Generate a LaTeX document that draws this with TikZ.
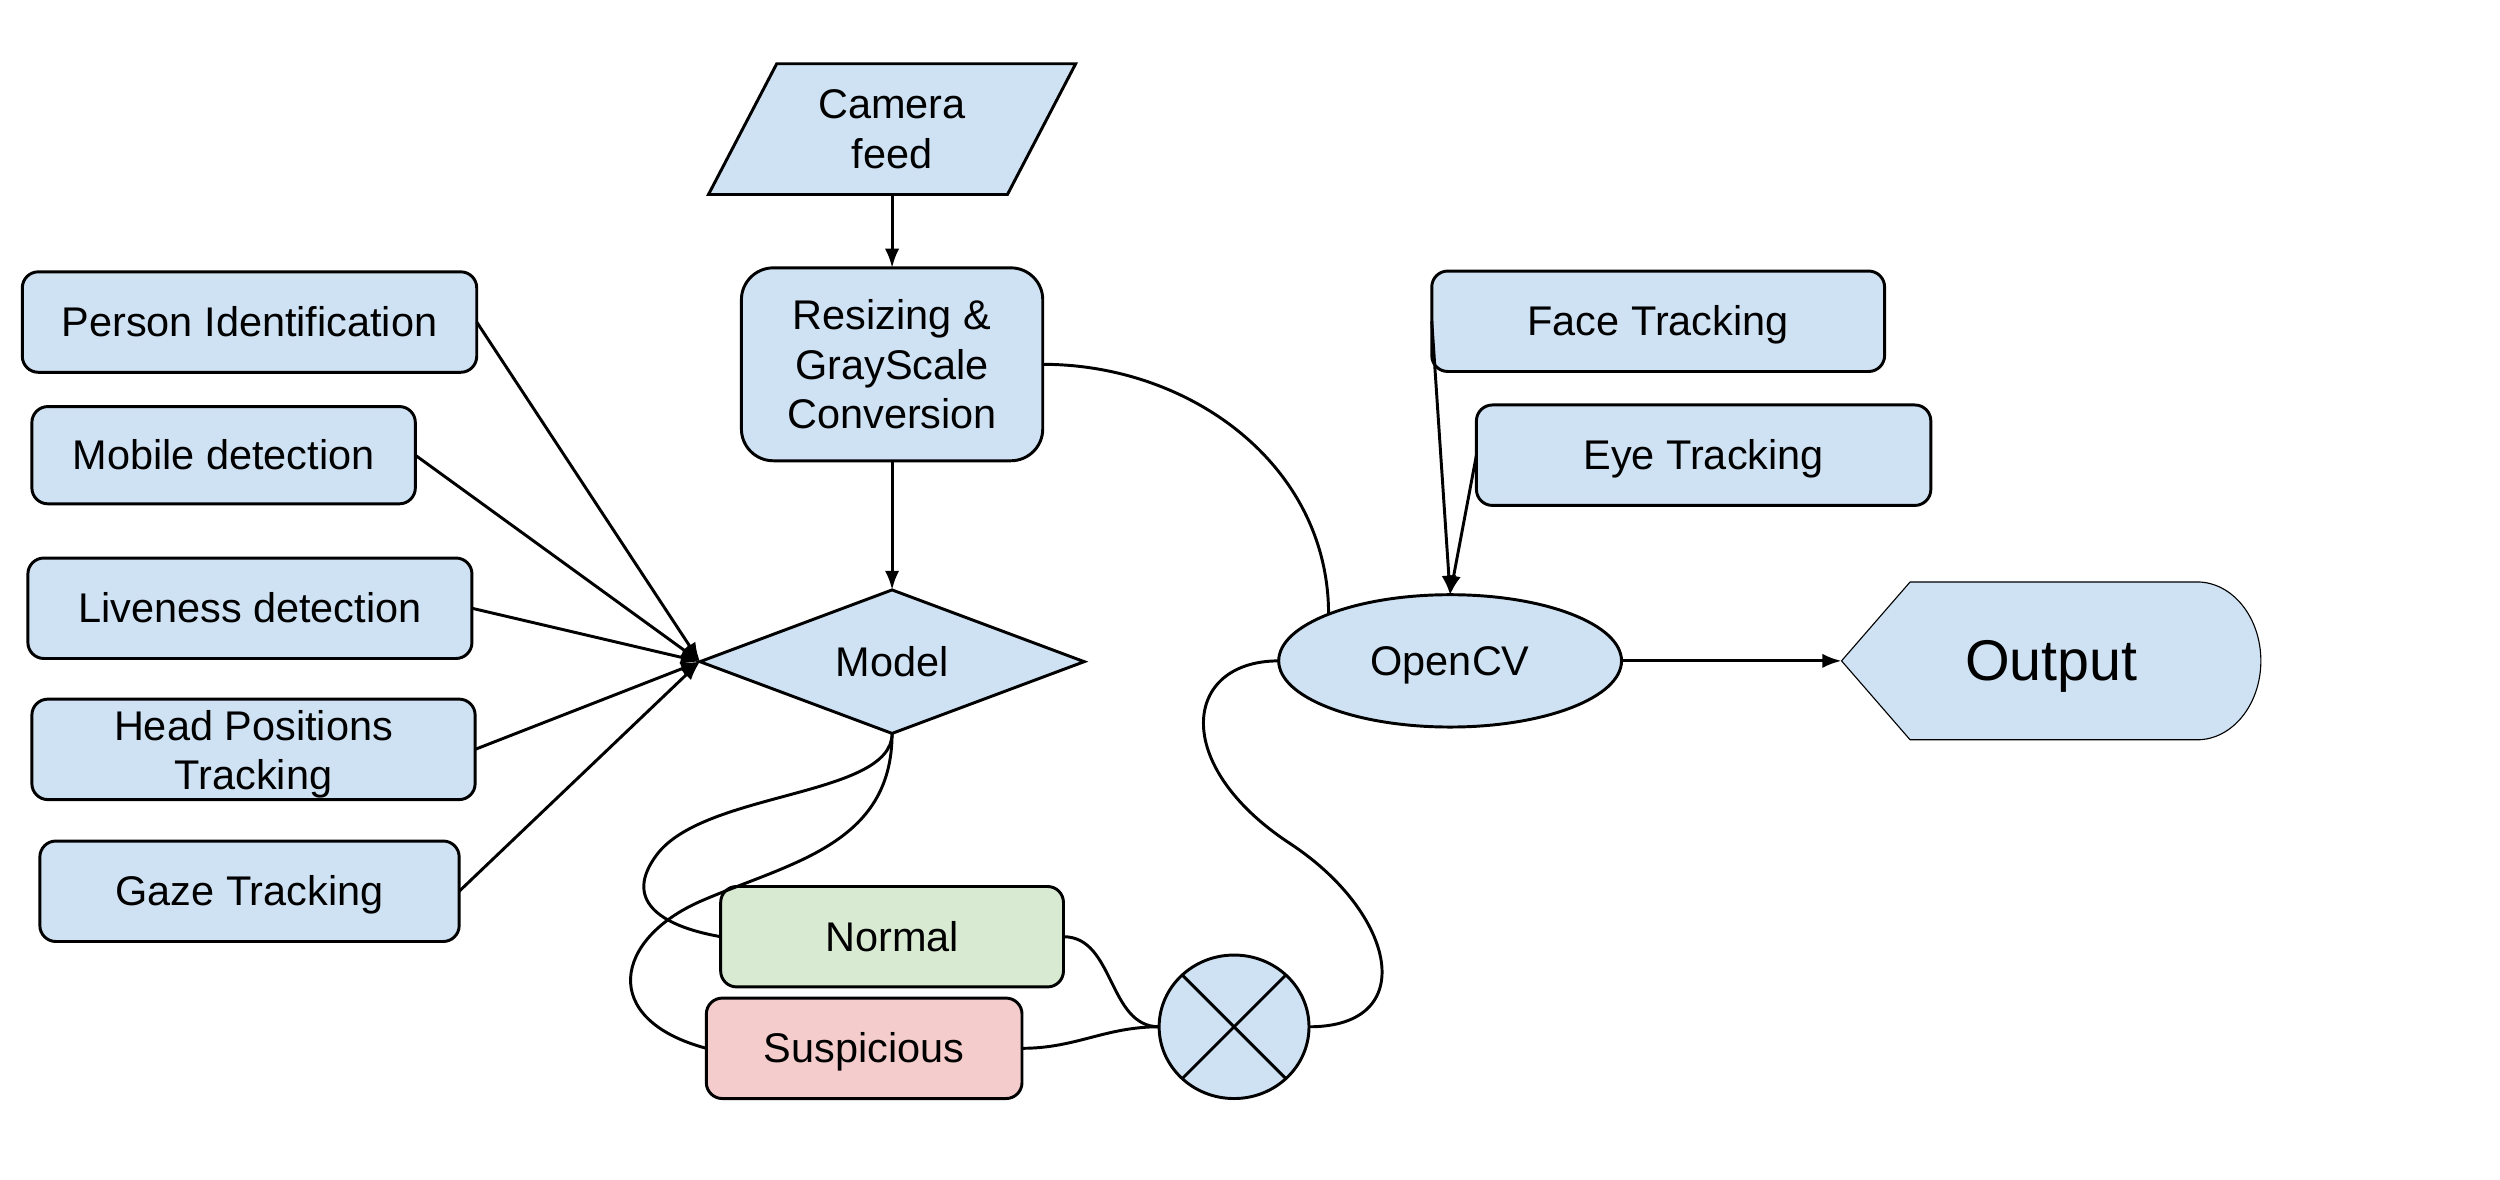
\documentclass[tikz,border=0pt]{standalone}
\usepackage{fontspec}
\setmainfont{Liberation Sans}
\usepackage{tikz}
\usetikzlibrary{arrows.meta}
\usetikzlibrary{backgrounds}
\usetikzlibrary{positioning}
\usetikzlibrary{shapes.geometric}
\definecolor{sheetBlue}{RGB}{207, 226, 243}
\definecolor{sheetGreen}{RGB}{217, 234, 211}
\definecolor{sheetRed}{RGB}{244, 204, 204}

\begin{document}
\begin{tikzpicture}[>={Latex[length=0.24cm, width=0.18cm]}, line width=1.05pt,
      font=\fontsize{14.8}{17.6}\selectfont,
      every node/.append style={outer sep=0pt},
      box/.style={draw, fill=sheetBlue, rounded corners=0.2cm, inner sep=0pt,
                  minimum height=1.26cm, align=center},
      oneline/.style={text height=0.47cm, text depth=0.11cm}]
      \useasboundingbox (0,0) rectangle (31.36,-14.79);

      \node [draw, fill=sheetBlue, trapezium, trapezium left angle=61,
             trapezium right angle=119, trapezium stretches=true,
             minimum width=4.62cm, minimum height=1.64cm, inner sep=0pt,
             align=center] (camera) at (11.19,-1.62) {Camera\\feed};
      \node [box, rounded corners=0.4cm, below=0.92cm of camera,
             minimum width=3.78cm, minimum height=2.42cm] (resize)
            {Resizing \&\\GrayScale\\Conversion};
      \node [draw, fill=sheetBlue, diamond, aspect=2.68, inner sep=0pt, oneline,
             minimum width=4.82cm, minimum height=1.8cm,
             below=1.62cm of resize] (model) {Model};

      \node [box, oneline, minimum width=5.7cm] (person) at (3.13,-4.04)
            {Person Identification};
      \node [box, oneline, minimum width=4.81cm, minimum height=1.22cm,
             below=0.43cm of person.south west, anchor=north west,
             xshift=0.12cm] (mobile) {Mobile detection};
      \node [box, oneline, minimum width=5.57cm, below=0.68cm of mobile.south west,
             anchor=north west, xshift=-0.05cm] (live) {Liveness detection};
      \node [box, minimum width=5.56cm, below=0.51cm of live.south west,
             anchor=north west, xshift=0.05cm] (head)
            {\\[-0.12cm]Head Positions\\Tracking};
      \node [box, oneline, minimum width=5.26cm, below=0.52cm of head.south west,
             anchor=north west, xshift=0.1cm] (gaze) {Gaze Tracking};

      \node [box, oneline, fill=sheetGreen, minimum width=4.3cm] (normal)
            at (11.19,-11.75) {Normal};
      \node [box, oneline, fill=sheetRed, minimum width=3.96cm,
             below=0.14cm of normal.south west, anchor=north west,
             xshift=-0.18cm] (suspicious) {Suspicious};
      \node [draw, fill=sheetBlue, ellipse, inner sep=0pt, minimum width=1.88cm,
             minimum height=1.8cm] (sum) at (15.48,-12.88) {};
      \draw (sum.45) -- (sum.-135);
      \draw (sum.135) -- (sum.-45);

      \node [draw, fill=sheetBlue, ellipse, inner sep=0pt, oneline,
             minimum width=4.3cm, minimum height=1.66cm] (opencv)
            at (18.19,-8.29) {OpenCV};
      \node [minimum width=5.26cm, minimum height=1.98cm, right=2.76cm of opencv,
             inner sep=0pt, text height=0.65cm, text depth=0.15cm,
             font=\fontsize{20.5}{24}\selectfont] (output) {Output};
      \begin{scope}[on background layer]
        \draw [fill=sheetBlue] (output.west)
              -- ([xshift=0.86cm]output.north west)
              -- ([xshift=-0.8cm]output.north east)
              arc [start angle=90, end angle=-90, x radius=0.8cm, y radius=0.99cm]
              -- ([xshift=0.86cm]output.south west) -- cycle;
      \end{scope}

      \node [box, oneline, minimum width=5.68cm] (face) at (20.8,-4.03)
            {Face Tracking};
      \node [box, oneline, minimum width=5.7cm, below=0.42cm of face.south west,
             anchor=north west, xshift=0.56cm] (eye) {Eye Tracking};

      \coordinate (bendA) at (8.24,-10.72);
      \coordinate (bendB) at (8.8,-11.3);
      \coordinate (bendC) at (16.18,-10.58);

      \draw [->] (camera.south) -- (resize.north);
      \draw [->] (resize.south) -- (model.north);
      \foreach \src in {person, mobile, live, head, gaze}
        \draw [->] (\src.east) -- (model.west);
      \draw (resize.east) to[out=0, in=90] (opencv.159);
      \draw (model.south) to[out=-90, in=53, out distance=0.8cm, in distance=1cm] (bendA)
            to[out=233, in=170, out distance=0.7cm, in distance=0.8cm] (normal.west);
      \draw (model.south) to[out=-90, in=23.4, out distance=1.4cm, in distance=1.2cm] (bendB)
            to[out=203.4, in=165, out distance=1.2cm, in distance=1.4cm] (suspicious.west);
      \draw (normal.east) to[out=0, in=180] (sum.west);
      \draw (suspicious.east) to[out=0, in=180] (sum.west);
      \draw (sum.east) to[out=0, in=-33.3, out distance=1.4cm, in distance=1.6cm] (bendC)
            to[out=146.7, in=180, out distance=1.8cm, in distance=1.2cm] (opencv.west);
      \draw [->] (face.west) -- (opencv.north);
      \draw [->] (eye.west) -- (opencv.north);
      \draw [->] (opencv.east) -- (output.west);
\end{tikzpicture}
\end{document}
